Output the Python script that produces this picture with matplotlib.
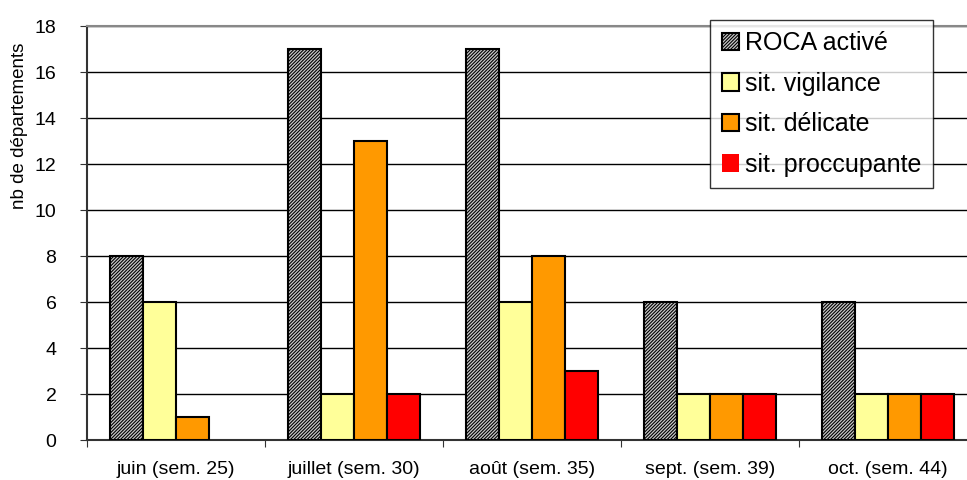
import matplotlib.pyplot as plt
import numpy as np

plt.rcParams['font.family'] = ['Liberation Sans', 'DejaVu Sans']
plt.rcParams['hatch.color'] = '#222222'
plt.rcParams['hatch.linewidth'] = 0.8

mois = ['juin (sem. 25)', 'juillet (sem. 30)', 'août (sem. 35)',
        'sept. (sem. 39)', 'oct. (sem. 44)']
roca = [8, 17, 17, 6, 6]
vigilance = [6, 2, 6, 2, 2]
delicate = [1, 13, 8, 2, 2]
preoccupante = [0, 2, 3, 2, 2]

series = [
    ('ROCA activé', roca, '#c8c8c8', '//////////'),
    ('sit. vigilance', vigilance, '#ffff99', None),
    ('sit. délicate', delicate, '#ff9900', None),
    ('sit. proccupante', preoccupante, '#ff0000', None),
]

fig = plt.figure(figsize=(9.67, 4.8), dpi=100)
ax = fig.add_axes([0.09, 0.0833, 0.9203, 0.8625])

x = np.arange(len(mois))
w = 0.185
for i, (nom, vals, col, hatch) in enumerate(series):
    # empty bars get no outline
    edges = ['black' if v > 0 else 'none' for v in vals]
    ax.bar(x + (i - 1.5) * w, vals, w, color=col, edgecolor=edges,
           linewidth=1.5, hatch=hatch, label=nom, zorder=3)

ax.set_xlim(-0.5, len(mois) - 0.5)
ax.set_ylim(0, 18)
ax.set_yticks(np.arange(0, 19, 2))
ax.yaxis.grid(True, color='black', linewidth=1.0, zorder=0)
ax.set_axisbelow(True)

# ticks at group boundaries, labels centred under each group
ax.set_xticks(np.arange(-0.5, len(mois), 1))
ax.set_xticklabels([])
ax.set_xticks(x, minor=True)
ax.set_xticklabels(mois, minor=True, fontsize=14)
ax.tick_params(axis='x', which='minor', length=0, pad=15)
ax.tick_params(axis='x', which='major', length=5, color='#333333')
ax.tick_params(axis='y', length=5, labelsize=14, pad=17, color='#333333')

ax.spines['top'].set_color('#888888')
ax.spines['top'].set_linewidth(1.5)
ax.spines['right'].set_visible(False)
ax.spines['left'].set_color('#333333')
ax.spines['left'].set_linewidth(1.5)
ax.spines['bottom'].set_color('#333333')
ax.spines['bottom'].set_linewidth(1.5)

ax.set_ylabel('nb de départements', fontsize=13.5)
ax.yaxis.set_label_coords(-0.066, 0.76)

leg = ax.legend(loc='upper right', bbox_to_anchor=(0.9506, 1.0145), fontsize=18,
                frameon=True, fancybox=False, edgecolor='black',
                handlelength=0.7, handleheight=0.7, handletextpad=0.25,
                labelspacing=0.66, borderpad=0.45, borderaxespad=0)
leg.get_frame().set_linewidth(1.0)

plt.savefig('out.png', dpi=100)
